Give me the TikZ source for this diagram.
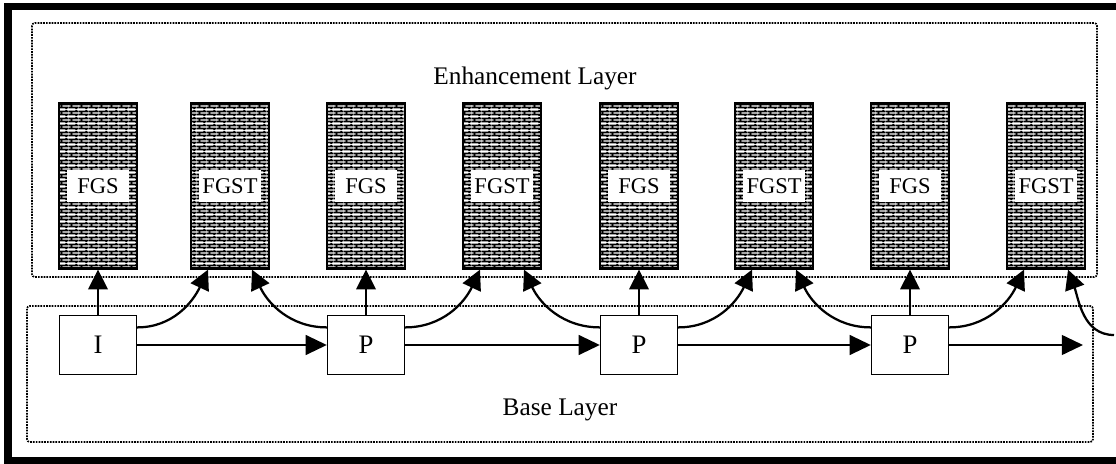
\documentclass[tikz,border=0pt]{standalone}
\usepackage{fontspec}
\setmainfont{Liberation Serif}
\usetikzlibrary{arrows.meta,patterns}

% small brick wall used to fill the enhancement frames
\pgfdeclarepatternformonly{wallbricks}{\pgfpointorigin}{\pgfpoint{7pt}{4.6pt}}{\pgfpoint{7pt}{4.6pt}}{
  \pgfsetlinewidth{1.3pt}
  \pgfpathmoveto{\pgfpoint{0pt}{1.15pt}}\pgfpathlineto{\pgfpoint{7pt}{1.15pt}}
  \pgfpathmoveto{\pgfpoint{0pt}{3.45pt}}\pgfpathlineto{\pgfpoint{7pt}{3.45pt}}
  \pgfpathmoveto{\pgfpoint{1.75pt}{1.15pt}}\pgfpathlineto{\pgfpoint{1.75pt}{3.45pt}}
  \pgfpathmoveto{\pgfpoint{5.25pt}{3.45pt}}\pgfpathlineto{\pgfpoint{5.25pt}{4.6pt}}
  \pgfpathmoveto{\pgfpoint{5.25pt}{0pt}}\pgfpathlineto{\pgfpoint{5.25pt}{1.15pt}}
  \pgfusepath{stroke}
}

\tikzset{
  wall/.style={draw, line width=1.6pt, pattern=wallbricks,
    minimum width=1.95cm, minimum height=4.125cm, inner sep=0pt},
  tag/.style={fill=white, minimum width=1.55cm, minimum height=0.82cm,
    inner sep=0pt, font=\fontsize{16}{18}\selectfont},
  frame/.style={draw, fill=white, line width=1.1pt, minimum width=1.92cm,
    minimum height=1.47cm, inner sep=0pt, font=\fontsize{19}{21}\selectfont},
  layer/.style={draw, line width=1.2pt, dash pattern=on 1.2pt off 0.8pt,
    rounded corners=2pt},
  title/.style={font=\fontsize{18}{20}\selectfont},
  flow/.style={line width=1.5pt, -{Triangle[length=15pt,width=14pt]}},
  up/.style={line width=0.9pt, -{Triangle[length=14pt,width=14pt]}},
  curve/.style={line width=1.6pt, -{Triangle[length=14pt,width=14pt]}}
}

\begin{document}
\begin{tikzpicture}[x=0.025cm,y=-0.025cm]
  \useasboundingbox[fill=white] (0,0) rectangle (1116,464);
  % outer border, open on the right
  \draw[line width=5pt] (1120,6.5) -- (8,6.5) -- (8,461) -- (1120,461);

  % the two layers
  \draw[layer] (32,23) rectangle (1097,277);
  \draw[layer] (27,306) rectangle (1093,442);
  \node[title] (enh) at (535,78) {Enhancement Layer};
  \node[title] (base) at (560,410) {Base Layer};

  % enhancement frames
  \node[wall] (fgs1) at (98,186) {};
  \node[wall] (fgst1) at (230,186) {};
  \node[wall] (fgs2) at (366,186) {};
  \node[wall] (fgst2) at (502,186) {};
  \node[wall] (fgs3) at (639,186) {};
  \node[wall] (fgst3) at (774,186) {};
  \node[wall] (fgs4) at (910,186) {};
  \node[wall] (fgst4) at (1046,186) {};
  \node[tag] (fgs1 t) at (fgs1) {FGS};
  \node[tag] (fgst1 t) at (fgst1) {FGST};
  \node[tag] (fgs2 t) at (fgs2) {FGS};
  \node[tag] (fgst2 t) at (fgst2) {FGST};
  \node[tag] (fgs3 t) at (fgs3) {FGS};
  \node[tag] (fgst3 t) at (fgst3) {FGST};
  \node[tag] (fgs4 t) at (fgs4) {FGS};
  \node[tag] (fgst4 t) at (fgst4) {FGST};

  % base layer frames
  \node[frame] (ib) at (98,345) {I};
  \node[frame] (p1) at (366,345) {P};
  \node[frame] (p2) at (639,345) {P};
  \node[frame] (p3) at (910,345) {P};
  \coordinate (tail) at (1083,345);
  \coordinate (feed) at (1114,335);

  % prediction in the base layer
  \draw[flow] (ib.east) -- (p1.west);
  \draw[flow] (p1.east) -- (p2.west);
  \draw[flow] (p2.east) -- (p3.west);
  \draw[flow] (p3.east) -- (tail);

  % FGS on top of each base frame
  \draw[up] (ib.north) -- (fgs1.south);
  \draw[up] (p1.north) -- (fgs2.south);
  \draw[up] (p2.north) -- (fgs3.south);
  \draw[up] (p3.north) -- (fgs4.south);

  % FGST from both neighbours
  \draw[curve] ([yshift=4.4mm]ib.east) to[out=0,in=-115] ([xshift=-5.5mm]fgst1.south);
  \draw[curve] ([yshift=4.4mm]p1.west) to[out=180,in=-65] ([xshift=5.5mm]fgst1.south);
  \draw[curve] ([yshift=4.4mm]p1.east) to[out=0,in=-115] ([xshift=-5.5mm]fgst2.south);
  \draw[curve] ([yshift=4.4mm]p2.west) to[out=180,in=-65] ([xshift=5.5mm]fgst2.south);
  \draw[curve] ([yshift=4.4mm]p2.east) to[out=0,in=-115] ([xshift=-5.5mm]fgst3.south);
  \draw[curve] ([yshift=4.4mm]p3.west) to[out=180,in=-65] ([xshift=5.5mm]fgst3.south);
  \draw[curve] ([yshift=4.4mm]p3.east) to[out=0,in=-115] ([xshift=-5.5mm]fgst4.south);
  \draw[curve] (feed) to[out=180,in=-70] ([xshift=5.5mm]fgst4.south);
\end{tikzpicture}
\end{document}
